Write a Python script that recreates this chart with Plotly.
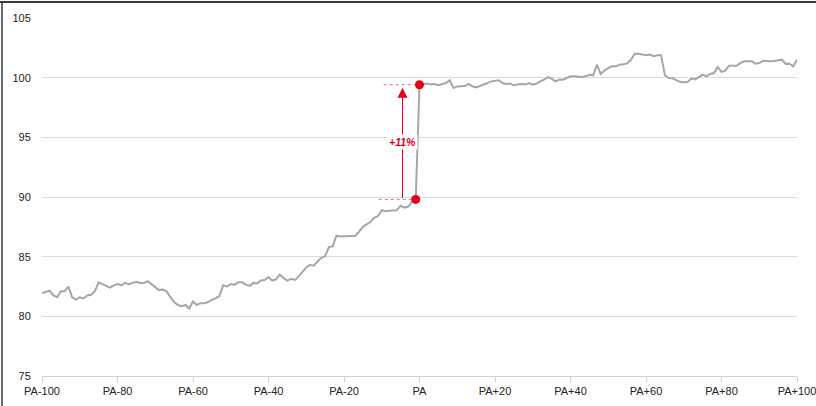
import plotly.graph_objects as go

# ---- data ----
periods = list(range(-100, 101))
values_pre = [
    81.95, 82.05, 82.15, 81.75, 81.6, 82.1, 82.1, 82.5, 81.6, 81.4,
    81.6, 81.5, 81.75, 81.8, 82.1, 82.85, 82.7, 82.55, 82.4, 82.6,
    82.7, 82.6, 82.8, 82.7, 82.8, 82.9, 82.8, 82.8, 82.95, 82.7,
    82.5, 82.2, 82.25, 82.1, 81.6, 81.2, 80.95, 80.85, 80.95, 80.65,
    81.25, 80.95, 81.1, 81.1,
    81.2, 81.4, 81.5, 81.7, 82.6, 82.5, 82.7, 82.65, 82.85, 82.85,
    82.65, 82.55, 82.8, 82.75, 83.0, 83.05, 83.3, 83.0, 83.1, 83.5,
    83.2, 83.0, 83.15, 83.05, 83.35, 83.75, 84.1, 84.3, 84.25, 84.6,
    84.9, 85.05,
    85.8, 85.86, 86.76, 86.7, 86.7, 86.76, 86.7, 86.75, 87.1, 87.5,
    87.7, 87.9, 88.25, 88.4, 88.9, 88.8, 88.85, 88.9, 88.9, 89.27,
    89.1, 89.2, 89.6, 89.8,
]
values_post = [
    99.41, 99.47, 99.5, 99.42, 99.47, 99.36, 99.47, 99.55, 99.78, 99.13,
    99.27, 99.27, 99.3, 99.47, 99.27, 99.19, 99.3, 99.4, 99.55, 99.69,
    99.75, 99.78, 99.55, 99.47, 99.5, 99.36, 99.42, 99.47, 99.42, 99.55,
    99.42, 99.5, 99.69, 99.83, 100.05, 99.92, 99.69, 99.83, 99.83, 99.97,
    100.11, 100.11, 100.05, 100.05, 100.11, 100.25, 100.2, 101.09, 100.3, 100.6,
    100.8, 100.95, 100.95, 101.09, 101.12, 101.2, 101.5, 102.01, 102.01, 101.95,
    101.87, 101.93, 101.8, 101.87, 101.87, 100.2, 99.97, 99.95, 99.83, 99.65,
    99.62, 99.64, 99.92, 99.85, 100.05, 100.25, 100.11, 100.31, 100.39, 100.9,
    100.48, 100.59, 101.0, 101.0, 101.0, 101.23, 101.37, 101.37, 101.37, 101.17,
    101.23, 101.42, 101.37, 101.37, 101.4, 101.45, 101.51, 101.15, 101.17, 100.95,
    101.51,
]
values = values_pre + values_post
tick_vals = [-100, -80, -60, -40, -20, 0, 20, 40, 60, 80, 100]
tick_text = ["PA-100", "PA-80", "PA-60", "PA-40", "PA-20", "PA",
             "PA+20", "PA+40", "PA+60", "PA+80", "PA+100"]
y_ticks = [75, 80, 85, 90, 95, 100, 105]

# ---- jump detection ----
jumps = [values[i + 1] - values[i] for i in range(len(values) - 1)]
j = max(range(len(jumps)), key=lambda i: jumps[i])
t0, v0 = periods[j], values[j]
t1, v1 = periods[j + 1], values[j + 1]
pct = round((v1 / v0 - 1) * 100)

RED = "#e2001a"
FONT = "Liberation Sans, Arial, sans-serif"
W, H = 816, 406
ML, MR, MT, MB = 42, 19, 18, 30
PW, PH = W - ML - MR, H - MT - MB

fig = go.Figure()
fig.add_trace(go.Scatter(x=periods, y=values, mode="lines",
                         line=dict(color="#a6a6a6", width=2),
                         hoverinfo="skip", showlegend=False))
fig.add_trace(go.Scatter(x=[t0, t1], y=[v0, v1], mode="markers",
                         marker=dict(color=RED, size=9),
                         showlegend=False))

arrow_t = t0 - 3.5
# dotted guide lines
fig.add_shape(type="line", x0=t0 - 9.8, x1=t0, y0=v0, y1=v0,
              line=dict(color="rgba(226,0,26,0.6)", width=1, dash="dot"), layer="below")
fig.add_shape(type="line", x0=t1 - 9.5, x1=t1, y0=v1, y1=v1,
              line=dict(color="rgba(226,0,26,0.6)", width=1, dash="dot"), layer="below")
# arrow
fig.add_annotation(x=arrow_t, y=v1 - 0.25, ax=arrow_t, ay=v0, axref="x", ayref="y",
                   xref="x", yref="y", text="", showarrow=True,
                   arrowhead=2, arrowsize=2, arrowwidth=1, arrowcolor=RED)
fig.add_annotation(x=arrow_t, y=(v0 + v1) / 2, xref="x", yref="y",
                   text=f"<b><i>+{pct}%</i></b>", showarrow=False,
                   font=dict(family=FONT, size=10.5, color=RED),
                   bgcolor="white", borderpad=1)

# outer frame (top and left)
def px2paper_x(px):
    return (px - ML) / PW

def px2paper_y(py):
    return 1 - (py - MT) / PH

fig.add_shape(type="line", xref="paper", yref="paper",
              x0=px2paper_x(0), x1=px2paper_x(W), y0=px2paper_y(2), y1=px2paper_y(2),
              line=dict(color="#3a3a3a", width=2))
fig.add_shape(type="line", xref="paper", yref="paper",
              x0=px2paper_x(2), x1=px2paper_x(2), y0=px2paper_y(1), y1=px2paper_y(H),
              line=dict(color="#3a3a3a", width=1.5))

fig.update_layout(
    width=W, height=H,
    margin=dict(l=ML, r=MR, t=MT, b=MB, pad=0, autoexpand=False),
    paper_bgcolor="white", plot_bgcolor="white",
    font=dict(family=FONT, size=11, color="#222222"),
    xaxis=dict(range=[-100, 100], tickvals=tick_vals, ticktext=tick_text,
               showgrid=False, zeroline=False, showline=True,
               linecolor="#d0d0d0", linewidth=1,
               ticks="outside", ticklen=5, tickcolor="#d0d0d0",
               ticklabeloverflow="allow", automargin=False,
               tickfont=dict(size=11, color="#222222")),
    yaxis=dict(range=[75, 105], tickvals=y_ticks, automargin=False,
               showgrid=True, gridcolor="#dcdcdc", gridwidth=1,
               zeroline=False, showline=False,
               ticks="outside", ticklen=8, tickcolor="rgba(0,0,0,0)",
               tickfont=dict(size=11, color="#222222")),
)

fig.write_html("out.html")
